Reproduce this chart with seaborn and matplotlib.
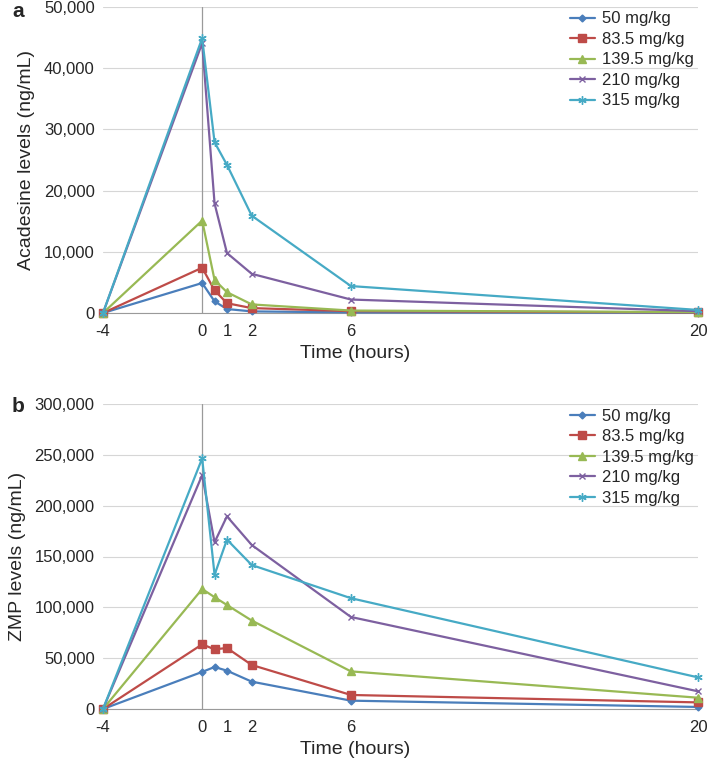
import pandas as pd
import seaborn as sns
import matplotlib.pyplot as plt
from matplotlib.ticker import FuncFormatter

# time points (hours)
hours = [-4, 0, 0.5, 1, 2, 6, 20]
doses = ['50 mg/kg', '83.5 mg/kg', '139.5 mg/kg', '210 mg/kg', '315 mg/kg']

# acadesine levels (ng/mL)
acadesine_50 = [0, 4900, 1900, 650, 260, 100, 50]
acadesine_835 = [0, 7400, 3700, 1600, 800, 300, 100]
acadesine_1395 = [0, 15100, 5400, 3400, 1400, 400, 150]
acadesine_210 = [0, 44100, 17900, 9800, 6400, 2200, 300]
acadesine_315 = [0, 44900, 27900, 24200, 15900, 4400, 500]

# ZMP levels (ng/mL)
zmp_50 = [0, 36500, 41300, 37700, 26900, 8200, 2000]
zmp_835 = [0, 63600, 58700, 60000, 43300, 13800, 6500]
zmp_1395 = [0, 118000, 110000, 102300, 87000, 37000, 11100]
zmp_210 = [0, 230000, 164000, 189500, 161300, 90500, 17400]
zmp_315 = [0, 246500, 132000, 166600, 141600, 109000, 31100]

colors = ['#4A7EBB', '#BE4B48', '#98B954', '#7D60A0', '#46AAC5']
markers = ['D', 's', '^', 'x', (6, 2, 0)]
msizes = [3.5, 5.5, 5.5, 5, 6]


def make_df(series):
    rows = []
    for dose, vals in zip(doses, series):
        for h, v in zip(hours, vals):
            rows.append({'hours': h, 'level': v, 'dose': dose})
    return pd.DataFrame(rows)


df_a = make_df([acadesine_50, acadesine_835, acadesine_1395, acadesine_210, acadesine_315])
df_b = make_df([zmp_50, zmp_835, zmp_1395, zmp_210, zmp_315])

sns.set_style('white')
plt.rcParams['font.family'] = ['Liberation Sans', 'DejaVu Sans']
plt.rcParams['axes.unicode_minus'] = False

fig = plt.figure(figsize=(7.08, 7.68), dpi=100)
ax_a = fig.add_axes([103 / 708, 1 - 313 / 768, 595 / 708, 306 / 768])
ax_b = fig.add_axes([103 / 708, 1 - 709 / 768, 595 / 708, 305 / 768])

panels = [(ax_a, df_a, 50000, 10000, 'Acadesine levels (ng/mL)', 'a', 2),
          (ax_b, df_b, 300000, 50000, 'ZMP levels (ng/mL)', 'b', 397)]

for ax, df, ymax, step, ylabel, tag, tag_y in panels:
    # one call per dose so filled and line markers can be mixed
    for dose, c, m, ms in zip(doses, colors, markers, msizes):
        sns.lineplot(data=df[df['dose'] == dose], x='hours', y='level', color=c,
                     marker=m, markersize=ms, markeredgewidth=1.0, markeredgecolor=c,
                     linewidth=1.6, label=dose, ax=ax, zorder=3, clip_on=False)
    ax.set_xlim(-4, 20)
    ax.set_ylim(0, ymax)
    ax.set_xticks([-4, 0, 1, 2, 6, 20])
    ax.set_yticks(range(0, ymax + 1, step))
    ax.yaxis.set_major_formatter(FuncFormatter(lambda v, p: f'{int(v):,}'))
    ax.grid(axis='y', color='#d6d6d6', linewidth=0.8)
    ax.axvline(0, color='#9a9a9a', linewidth=0.9, zorder=1)
    for s in ['top', 'right', 'left']:
        ax.spines[s].set_visible(False)
    ax.spines['bottom'].set_color('#9a9a9a')
    ax.tick_params(axis='y', labelsize=12, length=0, pad=6)
    ax.tick_params(axis='x', labelsize=12, length=3, color='#9a9a9a', direction='out', pad=5)
    ax.set_xlabel('Time (hours)', fontsize=14, labelpad=4, x=0.424)
    ax.set_ylabel(ylabel, fontsize=14, labelpad=6)
    ax.legend(loc='upper right', frameon=False, fontsize=12, handlelength=1.5,
              labelspacing=0.33, borderaxespad=0.2, handletextpad=0.45,
              bbox_to_anchor=(1.01, 1.018))
    fig.text(12 / 708, 1 - tag_y / 768, tag, fontsize=15, fontweight='bold',
             va='top', ha='left')

fig.savefig('out.png', dpi=100)
